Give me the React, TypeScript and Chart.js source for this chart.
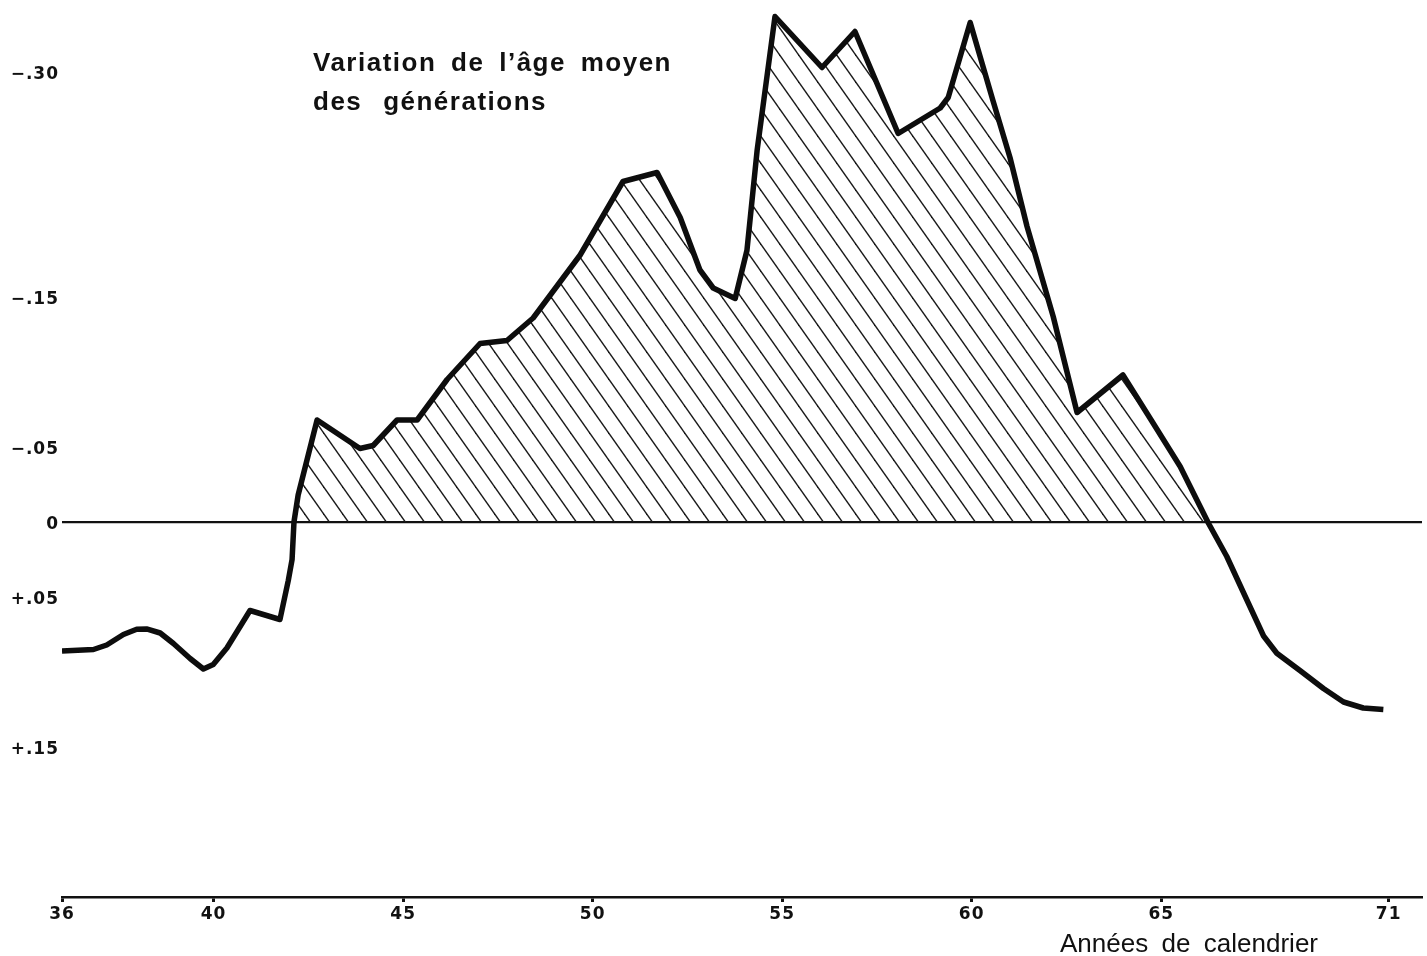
import React, { useEffect, useRef } from "react";
import { Chart, registerables } from "chart.js";

Chart.register(...registerables);

// Calendar years (x) and variation of mean age of generations (y)
const years = [
  36.0, 36.83, 37.18, 37.62, 37.97, 38.23, 38.59, 38.94, 39.38, 39.73, 39.99, 40.35,
  40.96, 41.75, 41.97, 42.07, 42.12, 42.23, 42.73, 43.86, 44.21, 44.84, 45.37, 46.16,
  47.03, 47.74, 48.43, 49.67, 50.8, 51.7, 52.31, 52.83, 53.18, 53.76, 54.07, 54.34,
  54.81, 56.05, 56.92, 58.06, 59.17, 59.38, 59.96, 60.56, 61.01, 61.46, 62.15, 62.78,
  63.99, 64.71, 65.5, 66.25, 66.73, 67.26, 67.7, 68.05, 68.66, 69.28, 69.81, 70.33,
  70.86,
];
const values = [
  0.086, 0.085, 0.082, 0.075, 0.0715, 0.0713, 0.074, 0.081, 0.091, 0.098, 0.095, 0.084,
  0.059, 0.065, 0.039, 0.025, 0.0, -0.018, -0.068, -0.049, -0.051, -0.068, -0.068, -0.095,
  -0.119, -0.121, -0.136, -0.178, -0.227, -0.233, -0.203, -0.168, -0.156, -0.149, -0.181, -0.248,
  -0.337, -0.303, -0.327, -0.259, -0.276, -0.283, -0.333, -0.281, -0.243, -0.197, -0.137, -0.073,
  -0.098, -0.069, -0.037, 0.001, 0.023, 0.052, 0.076, 0.0875, 0.099, 0.111, 0.12, 0.124,
  0.125,
];

const xTicks = [36, 40, 45, 50, 55, 60, 65, 71];
const yTicks = [-0.3, -0.15, -0.05, 0, 0.05, 0.15];
const yTickLabels = ["\u2212.30", "\u2212.15", "\u2212.05", "0", "+.05", "+.15"];

const titleLines = ["Variation de l\u2019\u00e2ge moyen", "des g\u00e9n\u00e9rations"];
const xAxisTitle = "Ann\u00e9es de calendrier";

function makeHatch(): CanvasPattern | string {
  const w = 19;
  const h = 27;
  const c = document.createElement("canvas");
  c.width = w;
  c.height = h;
  const g = c.getContext("2d");
  if (!g) return "rgba(0,0,0,0.2)";
  g.strokeStyle = "#1a1a1a";
  g.lineWidth = 1.4;
  for (let k = -1; k <= 1; k++) {
    g.beginPath();
    g.moveTo(k * w - w * 0.5, -h * 0.5);
    g.lineTo(k * w + w * 1.5, h * 1.5);
    g.stroke();
  }
  const p = g.createPattern(c, "repeat");
  return p || "rgba(0,0,0,0.2)";
}

function fitText(ctx: CanvasRenderingContext2D, text: string, width: number) {
  (ctx as any).wordSpacing = "0px";
  const m = ctx.measureText(text).width;
  const spaces = (text.match(/ /g) || []).length;
  if (spaces > 0 && width > m) {
    (ctx as any).wordSpacing = ((width - m) / spaces).toFixed(2) + "px";
  }
}

const textPlugin = {
  id: "textPlugin",
  beforeDraw(chart: any) {
    (chart.ctx as any).letterSpacing = "1px";
  },
  beforeDatasetsDraw(chart: any) {
    (chart.ctx as any).letterSpacing = "0px";
  },
  afterDraw(chart: any) {
    const ctx = chart.ctx as CanvasRenderingContext2D;
    const area = chart.chartArea;
    ctx.save();
    ctx.fillStyle = "#111";
    ctx.textAlign = "left";
    ctx.textBaseline = "alphabetic";
    ctx.font = "bold 26px 'Liberation Sans', Arial, sans-serif";
    (ctx as any).letterSpacing = "1.5px";
    fitText(ctx, titleLines[0], 359);
    ctx.fillText(titleLines[0], area.left + 251, 71);
    fitText(ctx, titleLines[1], 234);
    ctx.fillText(titleLines[1], area.left + 251, 110);

    (ctx as any).letterSpacing = "0px";
    ctx.font = "26px 'Liberation Sans', Arial, sans-serif";
    fitText(ctx, xAxisTitle, 258);
    ctx.fillText(xAxisTitle, 1060, 952);
    ctx.restore();
  },
};

const noPad = (s: any) => {
  s.paddingTop = 0;
  s.paddingBottom = 0;
  s.paddingLeft = 0;
  s.paddingRight = 0;
};

export default function App() {
  const ref = useRef<HTMLCanvasElement | null>(null);

  useEffect(() => {
    const canvas = ref.current;
    if (!canvas) return;
    const hatch = makeHatch();
    const chart = new Chart(canvas, {
      type: "line",
      data: {
        datasets: [
          {
            data: years.map((x, i) => ({ x, y: values[i] })),
            borderColor: "#0d0d0d",
            borderWidth: 5.5,
            borderJoinStyle: "round",
            borderCapStyle: "butt",
            tension: 0,
            pointRadius: 0,
            fill: { target: "origin", above: hatch as any, below: "rgba(0,0,0,0)" },
          },
        ],
      },
      options: {
        animation: false,
        responsive: false,
        devicePixelRatio: 1,
        layout: { padding: { top: 0, right: 5, left: 0, bottom: 0 } },
        plugins: { legend: { display: false }, tooltip: { enabled: false }, title: { display: false } },
        scales: {
          x: {
            type: "linear",
            min: 36,
            max: 71.88,
            afterBuildTicks: (s: any) => {
              s.ticks = xTicks.map((v) => ({ value: v }));
            },
            afterFit: (s: any) => {
              s.height = 59;
              noPad(s);
            },
            border: { display: true, color: "#111", width: 2.5 },
            grid: {
              drawOnChartArea: false,
              drawTicks: true,
              tickLength: 5,
              tickWidth: 3,
              tickColor: "#111",
            },
            ticks: {
              autoSkip: false,
              maxRotation: 0,
              padding: 2,
              color: "#111",
              font: { family: "'DejaVu Sans'", size: 17, weight: "bold" },
              callback: (v: any) => String(v),
            },
          },
          y: {
            type: "linear",
            reverse: true,
            min: -0.348,
            max: 0.25,
            afterBuildTicks: (s: any) => {
              s.ticks = yTicks.map((v) => ({ value: v }));
            },
            afterFit: (s: any) => {
              s.width = 62;
              noPad(s);
            },
            border: { display: false },
            grid: {
              drawTicks: false,
              lineWidth: 2.2,
              color: (c: any) => (c.tick && c.tick.value === 0 ? "#111" : "rgba(0,0,0,0)"),
            },
            ticks: {
              autoSkip: false,
              padding: 3,
              labelOffset: 3,
              color: "#111",
              font: { family: "'DejaVu Sans'", size: 17, weight: "bold" },
              callback: (v: any) => {
                const i = yTicks.indexOf(Number(v));
                return i >= 0 ? yTickLabels[i] : "";
              },
            },
          },
        },
      },
      plugins: [textPlugin],
    });
    return () => chart.destroy();
  }, []);

  return (
    <div style={{ position: "fixed", left: 0, top: 0, width: 1427, height: 956, background: "#fff" }}>
      <canvas ref={ref} width={1427} height={956} style={{ display: "block" }} />
    </div>
  );
}
